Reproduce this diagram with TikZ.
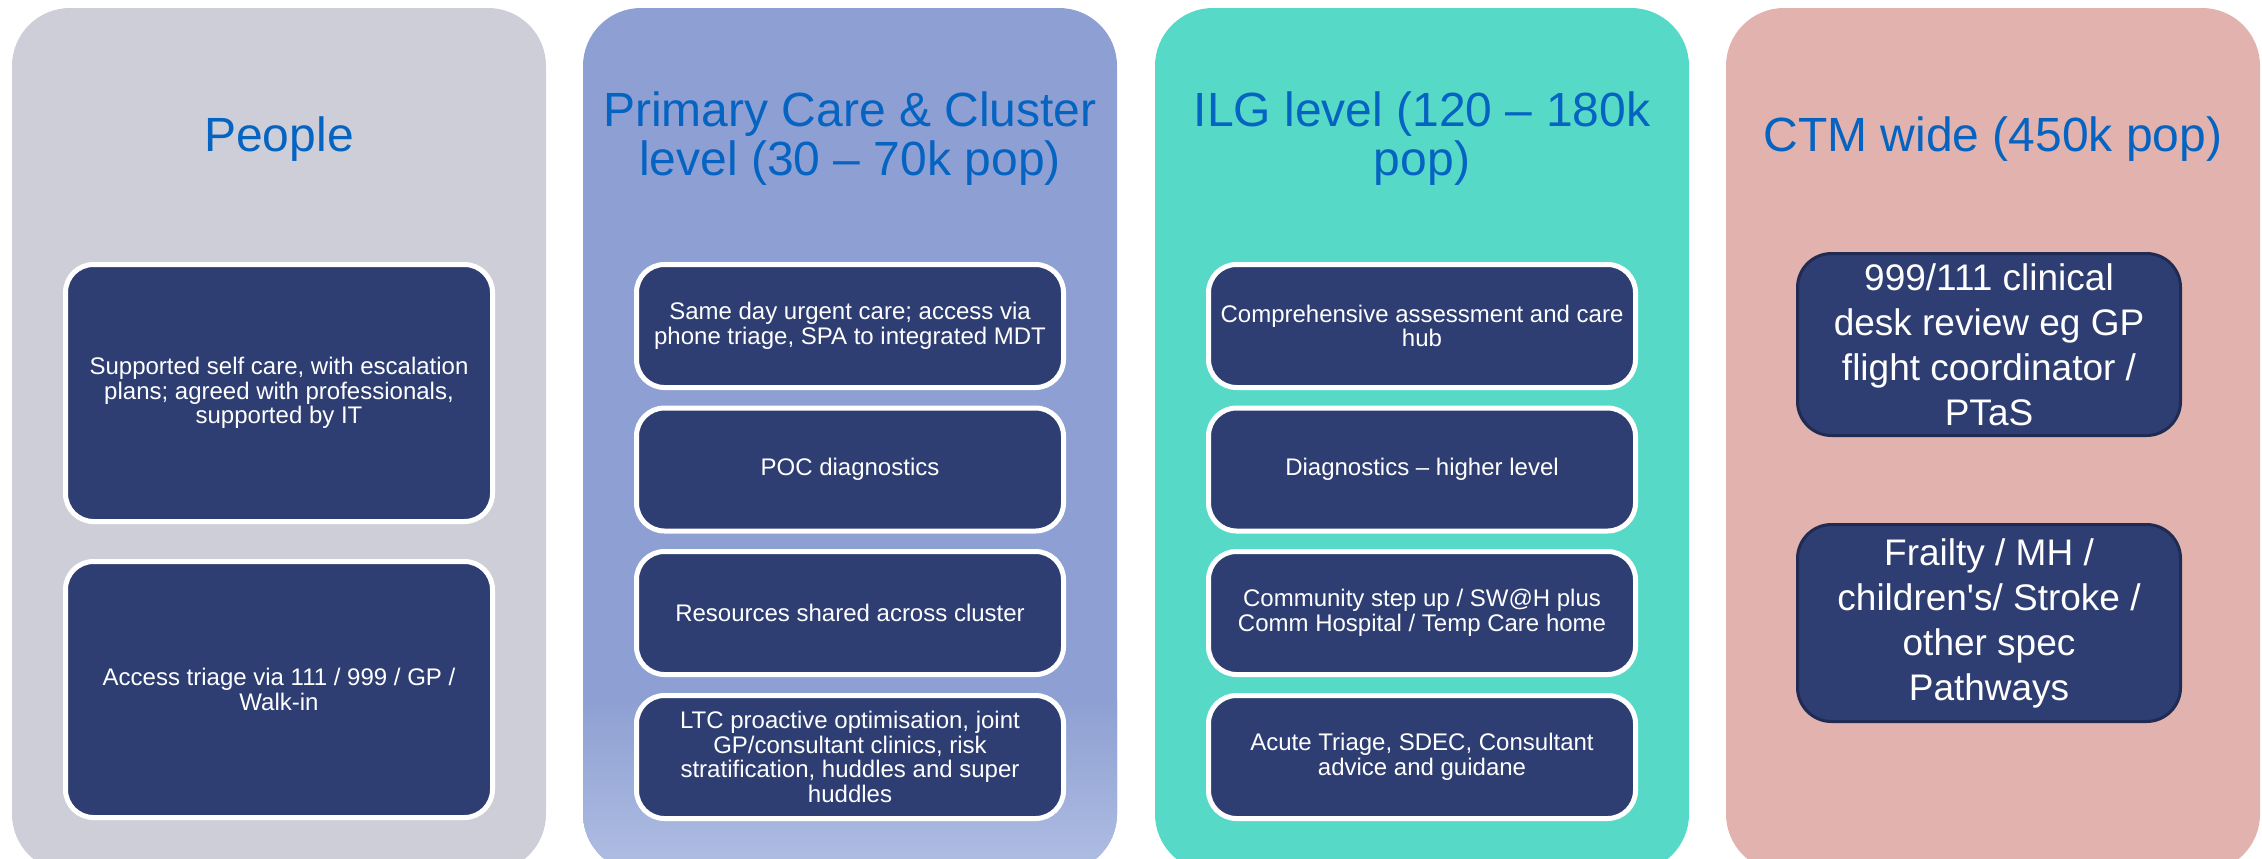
\documentclass[tikz,border=0pt]{standalone}
\usepackage{fontspec}
\setmainfont{Liberation Sans}
\usepackage{xcolor}
\definecolor{peoplebg}{HTML}{CDCED7}
\definecolor{primarybg}{HTML}{8EA0D3}
\definecolor{primarylow}{HTML}{B0BEE3}
\definecolor{ilgbg}{HTML}{57D9C8}
\definecolor{ctmbg}{HTML}{E1B2AE}
\definecolor{boxblue}{HTML}{2E3E72}
\definecolor{boxedge}{HTML}{1F2B52}
\definecolor{titleblue}{HTML}{0563C1}

\begin{document}
\begin{tikzpicture}[x=0.5pt, y=-0.5pt,
	panel/.style = {rounded corners=29pt},
	title/.style = {text=titleblue, align=center, font=\fontsize{24}{24.5}\selectfont},
	item/.style = {draw=white, line width=2.5pt, fill=boxblue, rounded corners=14pt, text=white, align=center,
		font=\fontsize{12}{12.3}\selectfont, inner sep=0pt, minimum width=213.5pt, minimum height=61.5pt},
	tall/.style = {minimum height=128.5pt},
	wide/.style = {draw=boxedge, line width=1.5pt, fill=boxblue, rounded corners=17pt, text=white, align=center,
		font=\fontsize{18.5}{22.5}\selectfont, inner sep=0pt, minimum width=191.5pt}]
		\useasboundingbox (0,0) rectangle (2262,858);
		\clip (0,0) rectangle (2262,858);
		% columns
		\fill[panel, peoplebg] (12,8) rectangle (546,872);
		\fill[panel, primarybg] (583,8) rectangle (1117,872);
		\begin{scope}
			\clip[panel] (583,8) rectangle (1117,872);
			\shade[top color=primarybg, bottom color=primarylow] (583,700) rectangle (1117,872);
		\end{scope}
		\fill[panel, ilgbg] (1155,8) rectangle (1689,872);
		\fill[panel, ctmbg] (1726,8) rectangle (2260,872);
		% titles
		\node[title] (tpeople) at (279,139) {People};
		\node[title] (tprimary) at (850,139) {Primary Care \& Cluster\\level (30 -- 70k pop)};
		\node[title] (tilg) at (1422,139) {ILG level (120 -- 180k\\pop)};
		\node[title] (tctm) at (1993,139) {CTM wide (450k pop)};
		% people
		\node[item, tall] (selfcare) at (279,393) {Supported self care, with escalation\\plans; agreed with professionals,\\supported by IT};
		\node[item, tall, minimum height=128pt] (access) at (279,689.5) {Access triage via 111 / 999 / GP /\\Walk-in};
		% primary care
		\node[item] (sameday) at (850,326) {Same day urgent care; access via\\phone triage, SPA to integrated MDT};
		\node[item] (poc) at (850,469.5) {POC diagnostics};
		\node[item] (shared) at (850,613) {Resources shared across cluster};
		\node[item] (ltc) at (850,757) {LTC proactive optimisation, joint\\GP/consultant clinics, risk\\stratification, huddles and super\\huddles};
		% ilg
		\node[item] (hub) at (1422,326) {Comprehensive assessment and care\\hub};
		\node[item] (diag) at (1422,469.5) {Diagnostics -- higher level};
		\node[item] (stepup) at (1422,613) {Community step up / SW@H plus\\Comm Hospital / Temp Care home};
		\node[item] (acute) at (1422,757) {Acute Triage, SDEC, Consultant\\advice and guidane};
		% ctm
		\node[wide, minimum height=91pt] (desk) at (1989,344.5) {999/111 clinical\\desk review eg GP\\flight coordinator /\\PTaS};
		\node[wide, minimum height=98.5pt] (frailty) at (1989,623) {Frailty / MH /\\children\textquotesingle s/ Stroke /\\other spec\\Pathways};
\end{tikzpicture}
\end{document}
